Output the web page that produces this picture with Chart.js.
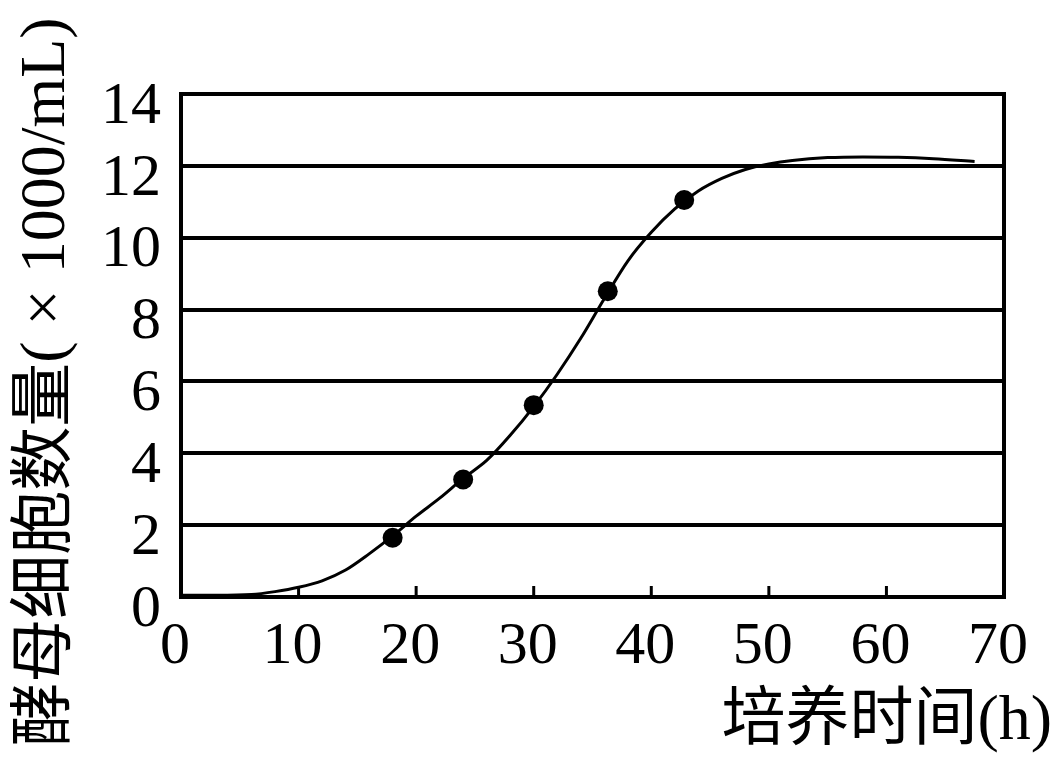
<!DOCTYPE html>
<html lang="zh">
<head>
<meta charset="UTF-8">
<title>酵母细胞数量</title>
<script src="https://cdn.jsdelivr.net/npm/chart.js"></script>
<style>
    body { margin: 0; background: #fff; }
    #box { width: 1063px; height: 778px; }
</style>
</head>
<body>
<div id="box"><canvas id="grafico" width="1063" height="778"></canvas></div>
<script>
// curva (tempo em h, células x1000/mL)
const curvaHoras = [0, 3, 6, 8, 10, 12, 14, 16, 18, 20, 22, 24, 26, 28, 30, 32, 34, 36, 38, 40, 42, 44, 46, 48, 50, 52, 55, 58, 61, 64, 67.5];
const curvaValores = [0.05, 0.05, 0.07, 0.15, 0.27, 0.45, 0.75, 1.2, 1.7, 2.25, 2.75, 3.3, 3.8, 4.5, 5.3, 6.2, 7.2, 8.3, 9.35, 10.15, 10.8, 11.3, 11.65, 11.9, 12.05, 12.15, 12.23, 12.25, 12.24, 12.2, 12.12];

// pontos medidos
const pontosHoras = [18, 24, 30, 36.3, 42.8];
const pontosValores = [1.65, 3.27, 5.34, 8.51, 11.05];

const ticksX = [0, 10, 20, 30, 40, 50, 60, 70];
const ticksY = [0, 2, 4, 6, 8, 10, 12, 14];

const tituloX = '培养时间(h)';
const tituloY = '酵母细胞数量( × 1000/mL)';

const fonteNum = '"Liberation Serif", "Noto Sans CJK SC", serif';

// moldura, marcas internas do eixo x e titulos
const extras = {
    id: 'extras',
    afterDraw(chart) {
        const ctx = chart.ctx;
        const a = chart.chartArea;
        const sx = chart.scales.x;
        ctx.save();
        ctx.strokeStyle = '#000';
        ctx.lineWidth = 4;
        ctx.strokeRect(a.left, a.top, a.right - a.left, a.bottom - a.top);
        ctx.lineWidth = 3;
        for (let i = 1; i < ticksX.length - 1; i++) {
            const px = sx.getPixelForValue(ticksX[i]);
            ctx.beginPath();
            ctx.moveTo(px, a.bottom);
            ctx.lineTo(px, a.bottom - 11);
            ctx.stroke();
        }
        ctx.fillStyle = '#000';
        ctx.font = '64px ' + fonteNum;
        ctx.textAlign = 'right';
        ctx.textBaseline = 'middle';
        ctx.fillText(tituloX, 1052, 722);

        ctx.translate(47, 382);
        ctx.rotate(-Math.PI / 2);
        ctx.font = '64px ' + fonteNum;
        ctx.textAlign = 'center';
        ctx.fillText(tituloY, 0, 0);
        ctx.restore();
    }
};

const config = {
    type: 'line',
    data: {
        datasets: [
            {
                label: '曲线',
                data: curvaHoras.map((h, i) => ({ x: h, y: curvaValores[i] })),
                borderColor: '#000',
                borderWidth: 3,
                pointRadius: 0,
                fill: false,
                cubicInterpolationMode: 'monotone'
            },
            {
                label: '测量',
                data: pontosHoras.map((h, i) => ({ x: h, y: pontosValores[i] })),
                showLine: false,
                pointRadius: 10,
                pointBackgroundColor: '#000',
                pointBorderColor: '#000',
                pointBorderWidth: 0
            }
        ]
    },
    options: {
        responsive: false,
        devicePixelRatio: 1,
        animation: false,
        layout: { padding: { top: 94, right: 59, left: 0, bottom: 0 } },
        plugins: { legend: { display: false }, tooltip: { enabled: false } },
        scales: {
            x: {
                type: 'linear',
                min: 0,
                max: 70,
                afterBuildTicks: s => { s.ticks = ticksX.map(v => ({ value: v })); },
                afterFit: s => { s.height = 181; },
                grid: { display: false },
                border: { display: false },
                ticks: {
                    color: '#000',
                    font: { family: fonteNum, size: 60 },
                    padding: 6,
                    labelOffset: -6,
                    maxRotation: 0,
                    autoSkip: false
                }
            },
            y: {
                min: 0,
                max: 14,
                afterBuildTicks: s => { s.ticks = ticksY.map(v => ({ value: v })); },
                afterFit: s => { s.width = 181; },
                grid: { color: '#000', lineWidth: 4, drawTicks: false },
                border: { display: false },
                ticks: {
                    color: '#000',
                    font: { family: fonteNum, size: 60 },
                    padding: 20,
                    labelOffset: 13,
                    autoSkip: false
                }
            }
        }
    },
    plugins: [extras]
};

new Chart(document.getElementById('grafico'), config);
</script>
</body>
</html>
